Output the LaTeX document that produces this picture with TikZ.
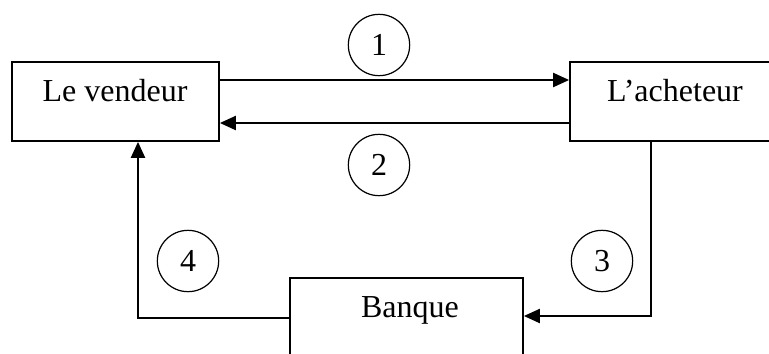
\documentclass[tikz,border=0pt]{standalone}
\usepackage{fontspec}
\setmainfont{Liberation Serif}
\usetikzlibrary{arrows.meta}
\tikzset{
  boxnode/.style={draw, line width=1.3pt, rectangle, inner sep=0pt},
  txt/.style={font=\fontsize{24}{28}\selectfont, anchor=base, inner sep=0pt},
  numc/.style={draw, circle, line width=0.9pt, minimum size=46pt, inner sep=0pt, font=\fontsize{24}{28}\selectfont},
  arr/.style={line width=1.6pt, -{Triangle[length=12pt,width=10.5pt]}},
}
\begin{document}
\begin{tikzpicture}[x=0.75pt,y=-0.75pt]
\useasboundingbox (0,0) rectangle (769,354);
\clip (0,0) rectangle (769,354);
% boxes
\node[boxnode, minimum width=155.25pt, minimum height=59.25pt] (vendeur) at (115.5,101.5) {};
\node[boxnode, minimum width=165pt, minimum height=59.25pt] (acheteur) at (680,101.5) {};
\node[boxnode, minimum width=174.75pt, minimum height=90pt] (banque) at (406.5,338) {};
% texts
\node[txt] (tv) at (115,101) {Le vendeur};
\node[txt] (ta) at (675,101) {L’acheteur};
\node[txt] (tb) at (410,317) {Banque};
% number circles
\node[numc] (c1) at (379,45) {1};
\node[numc] (c2) at (379,165) {2};
\node[numc] (c3) at (602,261) {3};
\node[numc] (c4) at (188,261) {4};
% connectors
\draw[arr] (vendeur.east |- 0,80) -- (acheteur.west |- 0,80);
\draw[arr] (acheteur.west |- 0,123) -- (vendeur.east |- 0,123);
\draw[arr] (acheteur.south -| 651,0) |- (banque.east |- 0,316);
\draw[arr] (banque.west |- 0,318) -| (vendeur.south -| 138,0);
\end{tikzpicture}
\end{document}
